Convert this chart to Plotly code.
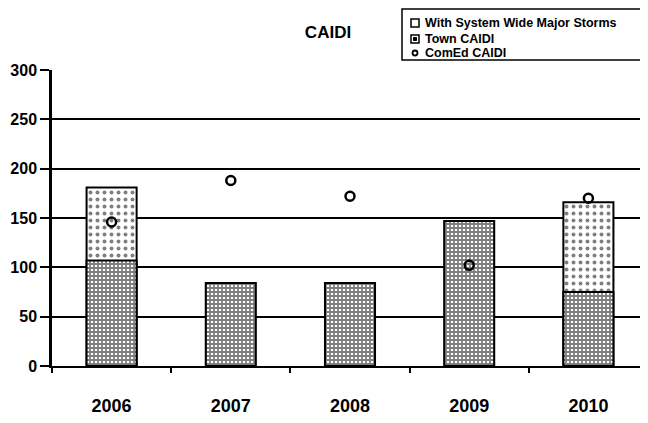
import plotly.graph_objects as go

years = ["2006", "2007", "2008", "2009", "2010"]
with_storms = [181, None, None, None, 166]
town_caidi = [107, 84, 84, 147, 75]
comed_caidi = [146, 188, 172, 102, 170]
y_ticks = [0, 50, 100, 150, 200, 250, 300]
legend_labels = ["With System Wide Major Storms", "Town CAIDI", "ComEd CAIDI"]

FONT = "Liberation Sans"

fig = go.Figure()
fig.add_trace(go.Bar(
    x=years, y=with_storms, name=legend_labels[0],
    marker=dict(color="white", line=dict(color="black", width=2),
                pattern=dict(shape=".", fgcolor="black", bgcolor="white",
                             size=7, solidity=0.25)),
))
fig.add_trace(go.Bar(
    x=years, y=town_caidi, name=legend_labels[1],
    marker=dict(color="white", line=dict(color="black", width=2),
                pattern=dict(shape="+", fgcolor="black", bgcolor="white",
                             size=4, solidity=0.7)),
))
fig.add_trace(go.Scatter(
    x=years, y=comed_caidi, name=legend_labels[2], mode="markers",
    marker=dict(symbol="circle-open", size=9, color="black",
                line=dict(color="black", width=2.5)),
))

# the page body adds an 8px offset; figure coordinates below compensate
W, H = 648, 423
L, R, T, B = 44, 8, 62, 65
PW = W - L - R
PH = H - T - B


def px(x):
    return (x - L) / PW


def py(y):
    return (H - B - y) / PH


# legend box drawn in the top margin
shapes = [dict(type="rect", xref="paper", yref="paper",
               x0=px(394), x1=px(637), y0=py(52), y1=py(1),
               line=dict(color="black", width=1.5), fillcolor="rgba(0,0,0,0)")]
rows = [15, 31, 45]
# swatch 1: empty square
shapes.append(dict(type="rect", xref="paper", yref="paper",
                   x0=px(403), x1=px(411), y0=py(rows[0] + 4), y1=py(rows[0] - 4),
                   line=dict(color="black", width=1.5)))
# swatch 2: square with inner square
shapes.append(dict(type="rect", xref="paper", yref="paper",
                   x0=px(403), x1=px(411), y0=py(rows[1] + 4), y1=py(rows[1] - 4),
                   line=dict(color="black", width=1.5)))
shapes.append(dict(type="rect", xref="paper", yref="paper",
                   x0=px(405.5), x1=px(408.5), y0=py(rows[1] + 1.5), y1=py(rows[1] - 1.5),
                   line=dict(color="black", width=1), fillcolor="black"))
# swatch 3: small circle
shapes.append(dict(type="circle", xref="paper", yref="paper",
                   x0=px(404.5), x1=px(409.5), y0=py(rows[2] + 2.5), y1=py(rows[2] - 2.5),
                   line=dict(color="black", width=1.8)))

annotations = [dict(text="<b>%s</b>" % lab, xref="paper", yref="paper",
                    x=px(415), y=py(ry), xanchor="left", yanchor="middle",
                    showarrow=False,
                    font=dict(size=12.5, family=FONT, color="black"))
               for lab, ry in zip(legend_labels, rows)]

fig.update_layout(
    width=W, height=H,
    margin=dict(l=L, r=R, t=T, b=B),
    paper_bgcolor="white", plot_bgcolor="white",
    barmode="overlay", bargap=0.58,
    font=dict(family=FONT, color="black"),
    title=dict(text="<b>CAIDI</b>", x=320/W, xanchor="center",
               y=1 - 24/H, yanchor="middle",
               font=dict(size=17, family=FONT, color="black")),
    showlegend=False,
    shapes=shapes,
    annotations=annotations,
    xaxis=dict(showgrid=False, showline=True, linecolor="black", linewidth=2,
               ticks="outside", ticklen=5, tickwidth=2, tickcolor="black",
               tickson="boundaries", automargin=False,
               tickfont=dict(size=18, family=FONT, color="black", weight="bold"),
               ticklabelstandoff=22),
    yaxis=dict(range=[0, 300], tickvals=y_ticks, showgrid=True,
               gridcolor="black", gridwidth=1.6, showline=True,
               linecolor="black", linewidth=2.5, ticks="outside", ticklen=9,
               tickwidth=2, tickcolor="black", zeroline=False, automargin=False,
               tickfont=dict(size=16, family=FONT, color="black", weight="bold")),
)

fig.write_html("out.html")
